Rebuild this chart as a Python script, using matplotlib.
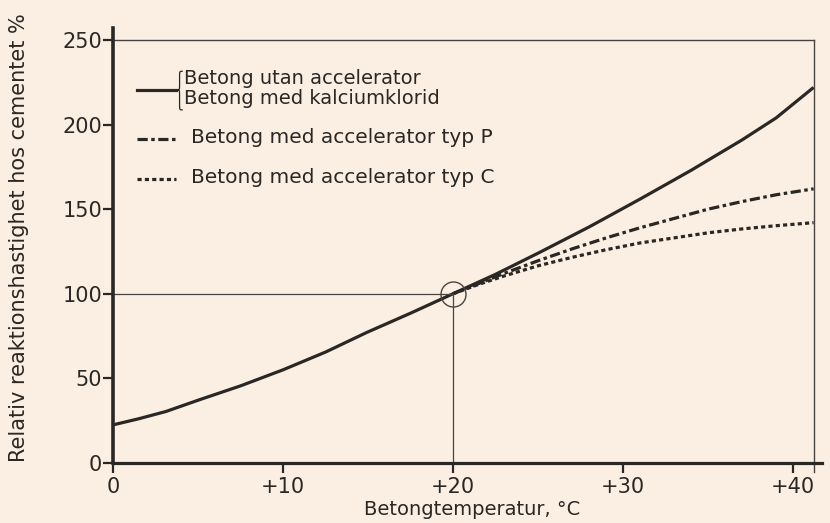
import numpy as np
import matplotlib.pyplot as plt
from matplotlib.path import Path
from matplotlib.patches import PathPatch

# Betongtemperatur (°C) och relativ reaktionshastighet (%)
temp_solid = [0, 1.5, 3.1, 5, 7.5, 10, 12.5, 14.9, 17.5, 20, 22.5, 25, 28, 31, 34, 37, 39, 41.2]
rate_solid = [22.4, 26, 30.3, 37, 45.5, 55, 65.5, 77, 88.5, 100, 111.5, 124, 139.5, 156,
              173, 191, 204, 222]

temp_acc = [20, 21.5, 23, 25, 27, 29, 31, 33, 35, 37, 39, 41.2]
rate_typ_p = [100, 106, 112, 119.5, 126.5, 133, 139, 144.5, 150, 154.5, 158.5, 162]
rate_typ_c = [100, 105.5, 110.5, 116.5, 121.5, 126, 130, 133, 136, 138.3, 140.2, 142]

ref_temp, ref_rate = 20, 100
x_ticks = [0, 10, 20, 30, 40]
x_ticklabels = ['0', '+10', '+20', '+30', '+40']
y_ticks = [0, 50, 100, 150, 200, 250]

legend_labels = ['Betong utan accelerator', 'Betong med kalciumklorid',
                 'Betong med accelerator typ P', 'Betong med accelerator typ C']

ink = '#2b2724'
thin = '#4a4440'
paper = '#fbefe3'
dashdot = (0, (3.2, 1.1, 1.1, 1.1))
dots = (0, (1.3, 1.0))

plt.rcParams['font.family'] = ['DejaVu Sans']
plt.rcParams['font.size'] = 15

fig = plt.figure(figsize=(8.3, 5.23), dpi=100, facecolor=paper)
ax = fig.add_axes([0.1365, 0.1153, 0.854, 0.8307])
ax.set_facecolor(paper)

x_right = temp_solid[-1]
ax.set_xlim(0, 41.7)
ax.set_ylim(0, 257)

# kurvorna
ax.plot(temp_solid, rate_solid, color=ink, lw=2.3, solid_capstyle='butt',
        solid_joinstyle='round')
ax.plot(temp_acc, rate_typ_p, color=ink, lw=2.3, linestyle=dashdot, dash_capstyle='butt')
ax.plot(temp_acc, rate_typ_c, color=ink, lw=2.3, linestyle=dots, dash_capstyle='butt')

# referenspunkt vid +20 °C
ax.plot([0, ref_temp], [ref_rate, ref_rate], color=thin, lw=0.9)
ax.plot([ref_temp, ref_temp], [0, ref_rate], color=thin, lw=0.9)
ax.plot([ref_temp], [ref_rate], marker='o', ms=18, mfc='none', mec=thin, mew=1.0)

# ram upptill och till höger
ax.plot([0, x_right], [250, 250], color=thin, lw=1.0)
ax.plot([x_right, x_right], [-5.5, 250], color=thin, lw=1.0, clip_on=False)

for side in ['top', 'right']:
    ax.spines[side].set_visible(False)
ax.spines['left'].set_linewidth(2.6)
ax.spines['bottom'].set_linewidth(2.3)
ax.spines['left'].set_color(ink)
ax.spines['bottom'].set_color(ink)

ax.set_xticks(x_ticks)
ax.set_xticklabels(x_ticklabels)
ax.set_yticks(y_ticks)
ax.tick_params(axis='both', direction='out', length=7, width=1.6, color=ink,
               labelcolor=ink, labelsize=15)
ax.tick_params(axis='y', pad=1)
ax.tick_params(axis='x', pad=3)

ax.set_xlabel('Betongtemperatur, °C', color=ink, fontsize=14)
ax.xaxis.set_label_coords(0.506, -0.085)
ax.set_ylabel('Relativ reaktionshastighet hos cementet %', color=ink, fontsize=15)
ax.yaxis.set_label_coords(-0.119, 0.517)

# teckenförklaring
tr = ax.transAxes
x0, x1 = 0.0334, 0.0884
y_solid = 0.858
ax.plot([x0, x1], [y_solid, y_solid], transform=tr, color=ink, lw=2.3)
ax.plot([x0, x1], [0.745, 0.745], transform=tr, color=ink, lw=2.3, linestyle=dashdot)
ax.plot([x0, x1], [0.653, 0.653], transform=tr, color=ink, lw=2.3, linestyle=dots)

xl, xr = 0.089, 0.098
xm = (xl + xr) / 2
top, mid, bot = 0.901, y_solid, 0.812
d = 0.012
verts = [(xr, top), (xm, top), (xm, top), (xm, top - d),
         (xm, mid + d),
         (xm, mid), (xm, mid), (xl, mid),
         (xm, mid), (xm, mid), (xm, mid - d),
         (xm, bot + d),
         (xm, bot), (xm, bot), (xr, bot)]
codes = [Path.MOVETO, Path.CURVE4, Path.CURVE4, Path.CURVE4,
         Path.LINETO,
         Path.CURVE4, Path.CURVE4, Path.CURVE4,
         Path.CURVE4, Path.CURVE4, Path.CURVE4,
         Path.LINETO,
         Path.CURVE4, Path.CURVE4, Path.CURVE4]
ax.add_patch(PathPatch(Path(verts, codes), transform=tr, fill=False,
                       edgecolor=ink, lw=0.9))

ax.text(0.100, 0.8715, legend_labels[0], transform=tr, va='baseline', color=ink,
        fontsize=14)
ax.text(0.100, 0.8255, legend_labels[1], transform=tr, va='baseline', color=ink,
        fontsize=14)
ax.text(0.110, 0.748, legend_labels[2], transform=tr, va='center', color=ink,
        fontsize=14.5)
ax.text(0.110, 0.656, legend_labels[3], transform=tr, va='center', color=ink,
        fontsize=14.5)

fig.savefig('out.png', dpi=100, facecolor=paper)
